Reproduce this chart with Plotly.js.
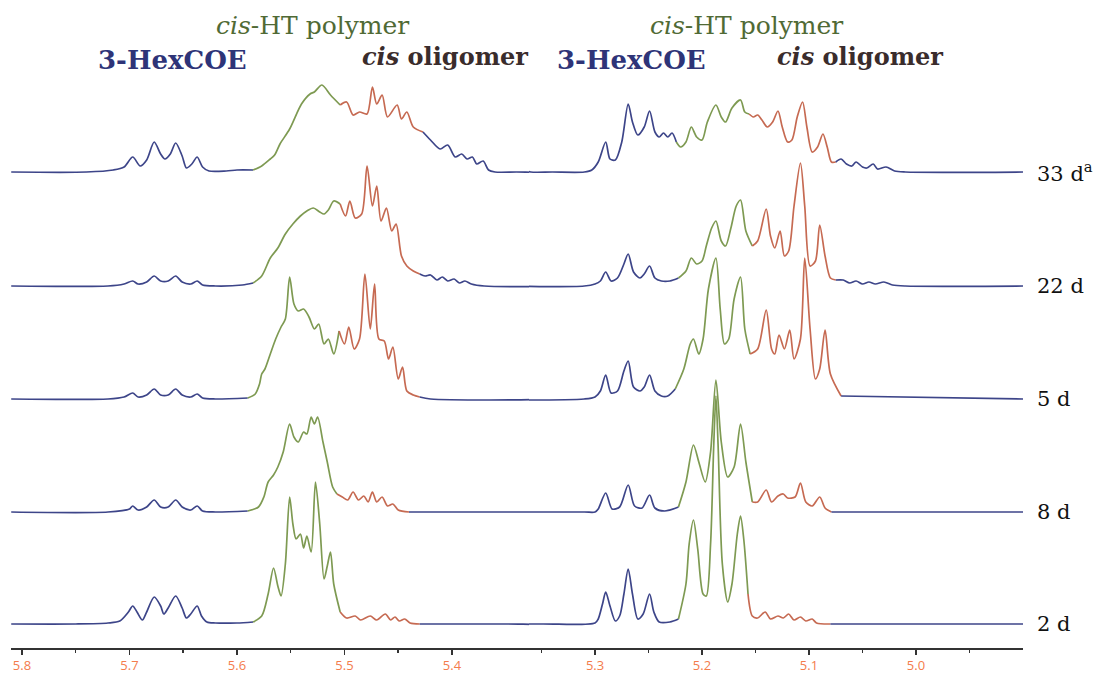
<!DOCTYPE html>
<html><head><meta charset="utf-8">
<script src="https://cdn.plot.ly/plotly-3.0.1.min.js"></script>
<style>html,body{margin:0;padding:0;background:#fff}#chart{width:1114px;height:673px}</style>
</head><body><div id="chart"></div>
<script>
// ---- data (chemical shift in ppm, intensity in arbitrary units) ----
const spectrumLabels = ['33 d<sup>a</sup>', '22 d', '5 d', '8 d', '2 d'];
const tickValuesLeft = [5.8, 5.7, 5.6, 5.5, 5.4];
const tickLabelsLeft = ['5.8', '5.7', '5.6', '5.5', '5.4'];
const tickValuesRight = [5.3, 5.2, 5.1, 5.0];
const tickLabelsRight = ['5.3', '5.2', '5.1', '5.0'];
const regionLabels = ['3-HexCOE', '<i>cis</i>-HT polymer', '<b><i>cis</i> oligomer</b>'];

const shift33 = [5.81,5.74,5.715,5.705,5.697,5.69,5.684,5.677,5.671,5.667,5.662,5.657,5.651,5.647,5.642,5.637,5.632,5.626,5.61,5.6,5.585,5.577,5.569,5.565,5.56,5.551,5.54,5.532,5.528,5.521,5.513,5.504,5.498,5.492,5.486,5.479,5.474,5.47,5.465,5.46,5.451,5.447,5.442,5.436,5.427,5.42,5.411,5.404,5.397,5.391,5.386,5.381,5.377,5.371,5.366,5.36,5.34,5.31,
  5.303,5.297,5.29,5.286,5.281,5.275,5.269,5.265,5.26,5.254,5.249,5.244,5.24,5.236,5.232,5.228,5.224,5.22,5.215,5.21,5.205,5.2,5.195,5.187,5.182,5.178,5.172,5.164,5.16,5.156,5.152,5.148,5.144,5.139,5.134,5.129,5.125,5.12,5.116,5.111,5.106,5.102,5.097,5.092,5.087,5.083,5.079,5.075,5.07,5.065,5.06,5.056,5.05,5.046,5.04,5.036,5.028,5.02,5.01,4.9];
const height33 = [0,0,2,5,15,6,12,30,18,13,18,29,16,4,8,15,5,1,1,2,2,6,13,17,28,43,68,78,80,87,77,67,70,57,60,58,85,68,77,55,67,53,60,45,40,32,23,27,15,18,13,15,8,11,2,0,0,0,
  2,10,30,13,12,30,68,50,37,45,61,40,35,39,35,39,30,25,30,45,35,32,50,67,55,50,64,72,60,58,55,57,52,45,50,61,45,30,32,55,70,45,20,25,38,25,10,10,13,8,6,10,5,4,8,3,5,1,0,0];

const shift22 = [5.81,5.72,5.705,5.697,5.692,5.684,5.677,5.671,5.664,5.657,5.651,5.643,5.637,5.632,5.62,5.595,5.585,5.577,5.569,5.562,5.555,5.548,5.541,5.535,5.529,5.523,5.519,5.515,5.51,5.504,5.499,5.495,5.49,5.484,5.479,5.474,5.47,5.466,5.461,5.456,5.452,5.447,5.442,5.436,5.43,5.425,5.42,5.414,5.409,5.404,5.398,5.393,5.388,5.382,5.37,5.31,
  5.3,5.295,5.29,5.285,5.279,5.273,5.269,5.264,5.258,5.254,5.249,5.244,5.238,5.23,5.222,5.215,5.21,5.205,5.2,5.196,5.191,5.187,5.182,5.178,5.173,5.168,5.164,5.159,5.153,5.148,5.14,5.136,5.132,5.127,5.123,5.119,5.114,5.108,5.104,5.099,5.094,5.09,5.085,5.08,5.075,5.068,5.062,5.056,5.05,5.044,5.038,5.03,5.022,5.01,4.9];
const height22 = [0,0,2,5,2,4,10,5,5,10,4,2,5,1,0,1,3,10,28,38,52,62,70,75,78,74,72,76,85,82,70,85,68,72,120,80,100,65,78,55,62,30,20,15,12,10,11,6,9,5,7,3,5,2,0,0,
  2,5,14,5,8,22,32,14,8,12,20,8,5,5,8,15,28,22,25,40,58,65,45,40,58,80,86,55,40,45,77,50,38,55,30,35,80,123,80,20,25,61,30,8,6,6,3,5,2,4,2,4,1,0,0];

const shift5 = [5.81,5.72,5.705,5.697,5.692,5.684,5.677,5.671,5.664,5.657,5.651,5.643,5.637,5.632,5.62,5.59,5.583,5.579,5.577,5.574,5.569,5.564,5.559,5.555,5.551,5.547,5.543,5.538,5.533,5.528,5.524,5.519,5.515,5.51,5.505,5.5,5.496,5.491,5.486,5.481,5.476,5.472,5.468,5.463,5.459,5.455,5.45,5.446,5.442,5.436,5.43,5.42,5.31,
  5.3,5.295,5.29,5.285,5.279,5.273,5.269,5.264,5.258,5.254,5.249,5.244,5.238,5.232,5.225,5.217,5.211,5.208,5.203,5.199,5.194,5.187,5.183,5.179,5.175,5.17,5.164,5.16,5.155,5.148,5.14,5.135,5.132,5.128,5.123,5.118,5.114,5.108,5.104,5.099,5.094,5.09,5.085,5.08,5.07,4.9];
const height5 = [0,0,2,6,2,4,10,4,4,10,4,2,5,1,0,1,5,15,25,30,45,60,72,80,122,95,88,90,82,70,75,55,60,45,68,55,72,50,60,125,70,115,60,58,40,52,20,32,8,4,2,0,0,
  2,8,24,6,8,28,38,12,8,12,24,8,3,3,10,30,55,60,45,60,110,141,90,55,60,100,122,70,45,50,89,50,45,64,50,69,40,60,141,70,20,30,69,25,3,0,0];

const shift8 = [5.81,5.72,5.7,5.697,5.692,5.684,5.677,5.671,5.664,5.657,5.651,5.643,5.637,5.632,5.62,5.59,5.58,5.575,5.571,5.566,5.562,5.557,5.551,5.547,5.543,5.538,5.535,5.531,5.528,5.525,5.52,5.516,5.511,5.507,5.502,5.497,5.492,5.487,5.482,5.478,5.474,5.47,5.465,5.46,5.455,5.45,5.44,5.31,
  5.3,5.297,5.29,5.284,5.277,5.269,5.263,5.256,5.249,5.244,5.235,5.222,5.215,5.208,5.203,5.197,5.192,5.187,5.182,5.176,5.17,5.164,5.159,5.153,5.148,5.14,5.135,5.129,5.124,5.12,5.113,5.108,5.103,5.097,5.09,5.085,5.079,4.9];
const height8 = [0,0,3,6,2,5,12,5,5,12,5,2,6,1,0,1,5,15,30,37,45,60,88,75,70,80,78,95,88,95,70,50,25,18,15,12,20,12,16,10,20,10,15,6,8,2,0,0,
  0,3,19,3,5,27,6,4,17,4,1,5,30,67,50,30,60,132,70,35,45,88,50,10,10,22,10,16,18,14,15,29,10,6,15,4,0,0];

const shift2 = [5.81,5.75,5.72,5.709,5.701,5.697,5.693,5.688,5.684,5.677,5.671,5.668,5.664,5.657,5.651,5.647,5.643,5.637,5.633,5.628,5.62,5.6,5.585,5.577,5.571,5.566,5.562,5.559,5.555,5.551,5.548,5.545,5.541,5.538,5.535,5.531,5.527,5.523,5.519,5.516,5.513,5.51,5.504,5.498,5.49,5.485,5.476,5.47,5.462,5.457,5.453,5.449,5.444,5.439,5.43,5.35,5.3,
  5.297,5.293,5.29,5.286,5.281,5.277,5.273,5.269,5.265,5.26,5.255,5.249,5.245,5.24,5.23,5.222,5.215,5.212,5.208,5.204,5.199,5.196,5.192,5.189,5.187,5.185,5.181,5.176,5.172,5.167,5.164,5.161,5.157,5.153,5.148,5.141,5.136,5.129,5.124,5.119,5.114,5.108,5.103,5.097,5.093,5.08,4.9];
const height2 = [0,0,1,3,12,18,12,4,12,27,18,10,16,28,16,6,10,18,8,2,1,1,2,8,30,56,38,28,60,127,100,85,90,76,88,72,142,100,45,58,72,40,12,6,8,4,8,4,10,4,7,3,5,1,0,0,1,
  5,20,32,18,3,8,30,55,30,5,10,30,12,2,2,5,40,80,104,75,30,28,80,180,228,180,60,22,40,90,108,85,30,8,6,12,5,8,6,10,4,7,3,5,1,0,0];

// ---- drawing ----
const spectra = [[shift33, height33], [shift22, height22], [shift5, height5], [shift8, height8], [shift2, height2]];
const baselines = [476, 362, 249, 136, 24];
const BLUE = '#3d4589', GREEN = '#7e9a52', RED = '#c66a52';
const bounds = [5.59, 5.505, 5.43, 5.222, 5.155, 5.075];
const segColors = [BLUE, GREEN, RED, BLUE, GREEN, RED, BLUE];
function segOf(x) { let k = 0; bounds.forEach(b => { if (x < b) k++; }); return k; }

const traces = [];
function addHalf(xs, ys, off, keep, axis) {
  const idx = xs.map((x, i) => i).filter(i => keep(xs[i]));
  let run = null;
  const push = r => traces.push({
    x: r.x, y: r.y, xaxis: axis, yaxis: 'y', mode: 'lines', type: 'scatter', hoverinfo: 'skip', showlegend: false,
    line: { color: r.c, width: 1.7, shape: 'spline', smoothing: 0.8 }
  });
  for (let k = 0; k < idx.length - 1; k++) {
    const i = idx[k], j = idx[k + 1];
    const c = segColors[segOf((xs[i] + xs[j]) / 2)];
    if (!run || run.c !== c) { if (run) push(run); run = { c, x: [xs[i]], y: [ys[i] + off] }; }
    run.x.push(xs[j]); run.y.push(ys[j] + off);
  }
  if (run) push(run);
}
spectra.forEach(([xs, ys], si) => {
  addHalf(xs, ys, baselines[si], x => x > 5.25, 'x');
  addHalf(xs, ys, baselines[si], x => x < 5.45, 'x2');
});

const ann = [];
const serif = 'DejaVu Serif, serif';
function px(x) { return (x - 11) / 1012; }
[172, 631].forEach(cx => ann.push({ text: '<b>' + regionLabels[0] + '</b>', xref: 'paper', yref: 'y', x: px(cx), xanchor: 'center', y: 648 - 60, showarrow: false, font: { family: serif, size: 26, color: '#2e3478' } }));
[312, 746].forEach(cx => ann.push({ text: regionLabels[1], xref: 'paper', yref: 'y', x: px(cx), xanchor: 'center', y: 648 - 25, showarrow: false, font: { family: serif, size: 25, color: '#506a35' } }));
[445, 860].forEach(cx => ann.push({ text: regionLabels[2], xref: 'paper', yref: 'y', x: px(cx), xanchor: 'center', y: 648 - 56, showarrow: false, font: { family: serif, size: 24, color: '#3a2c2c' } }));
spectrumLabels.forEach((t, i) => ann.push({ text: t, xref: 'paper', yref: 'y', x: px(1035), xanchor: 'left', y: baselines[i], showarrow: false, font: { family: serif, size: 21, color: '#111' } }));

const axisStyle = {
  showgrid: false, zeroline: false, showline: true, linecolor: '#333', linewidth: 1.5,
  ticks: 'outside', ticklen: 5, tickwidth: 1.5, tickcolor: '#333',
  tickfont: { family: 'Open Sans, sans-serif', size: 13, color: '#f47c4c' }, anchor: 'y', fixedrange: true
};
const layout = {
  width: 1114, height: 673, margin: { l: 11, r: 91, t: 0, b: 25 },
  paper_bgcolor: '#fff', plot_bgcolor: '#fff',
  xaxis: Object.assign({}, axisStyle, { domain: [0, px(531)], range: [5.8102, 5.3265], tickvals: tickValuesLeft, ticktext: tickLabelsLeft,
    minor: { tickvals: [5.75, 5.65, 5.55, 5.45], ticks: 'outside', ticklen: 3, tickcolor: '#333', tickwidth: 1.5 } }),
  xaxis2: Object.assign({}, axisStyle, { domain: [px(529), 1], range: [5.3617, 4.9], tickvals: tickValuesRight, ticktext: tickLabelsRight,
    minor: { tickvals: [5.35, 5.25, 5.15, 5.05, 4.95], ticks: 'outside', ticklen: 3, tickcolor: '#333', tickwidth: 1.5 } }),
  yaxis: { range: [0, 648], visible: false, fixedrange: true },
  annotations: ann
};
Plotly.newPlot('chart', traces, layout, { displayModeBar: false, staticPlot: true });
</script></body></html>
